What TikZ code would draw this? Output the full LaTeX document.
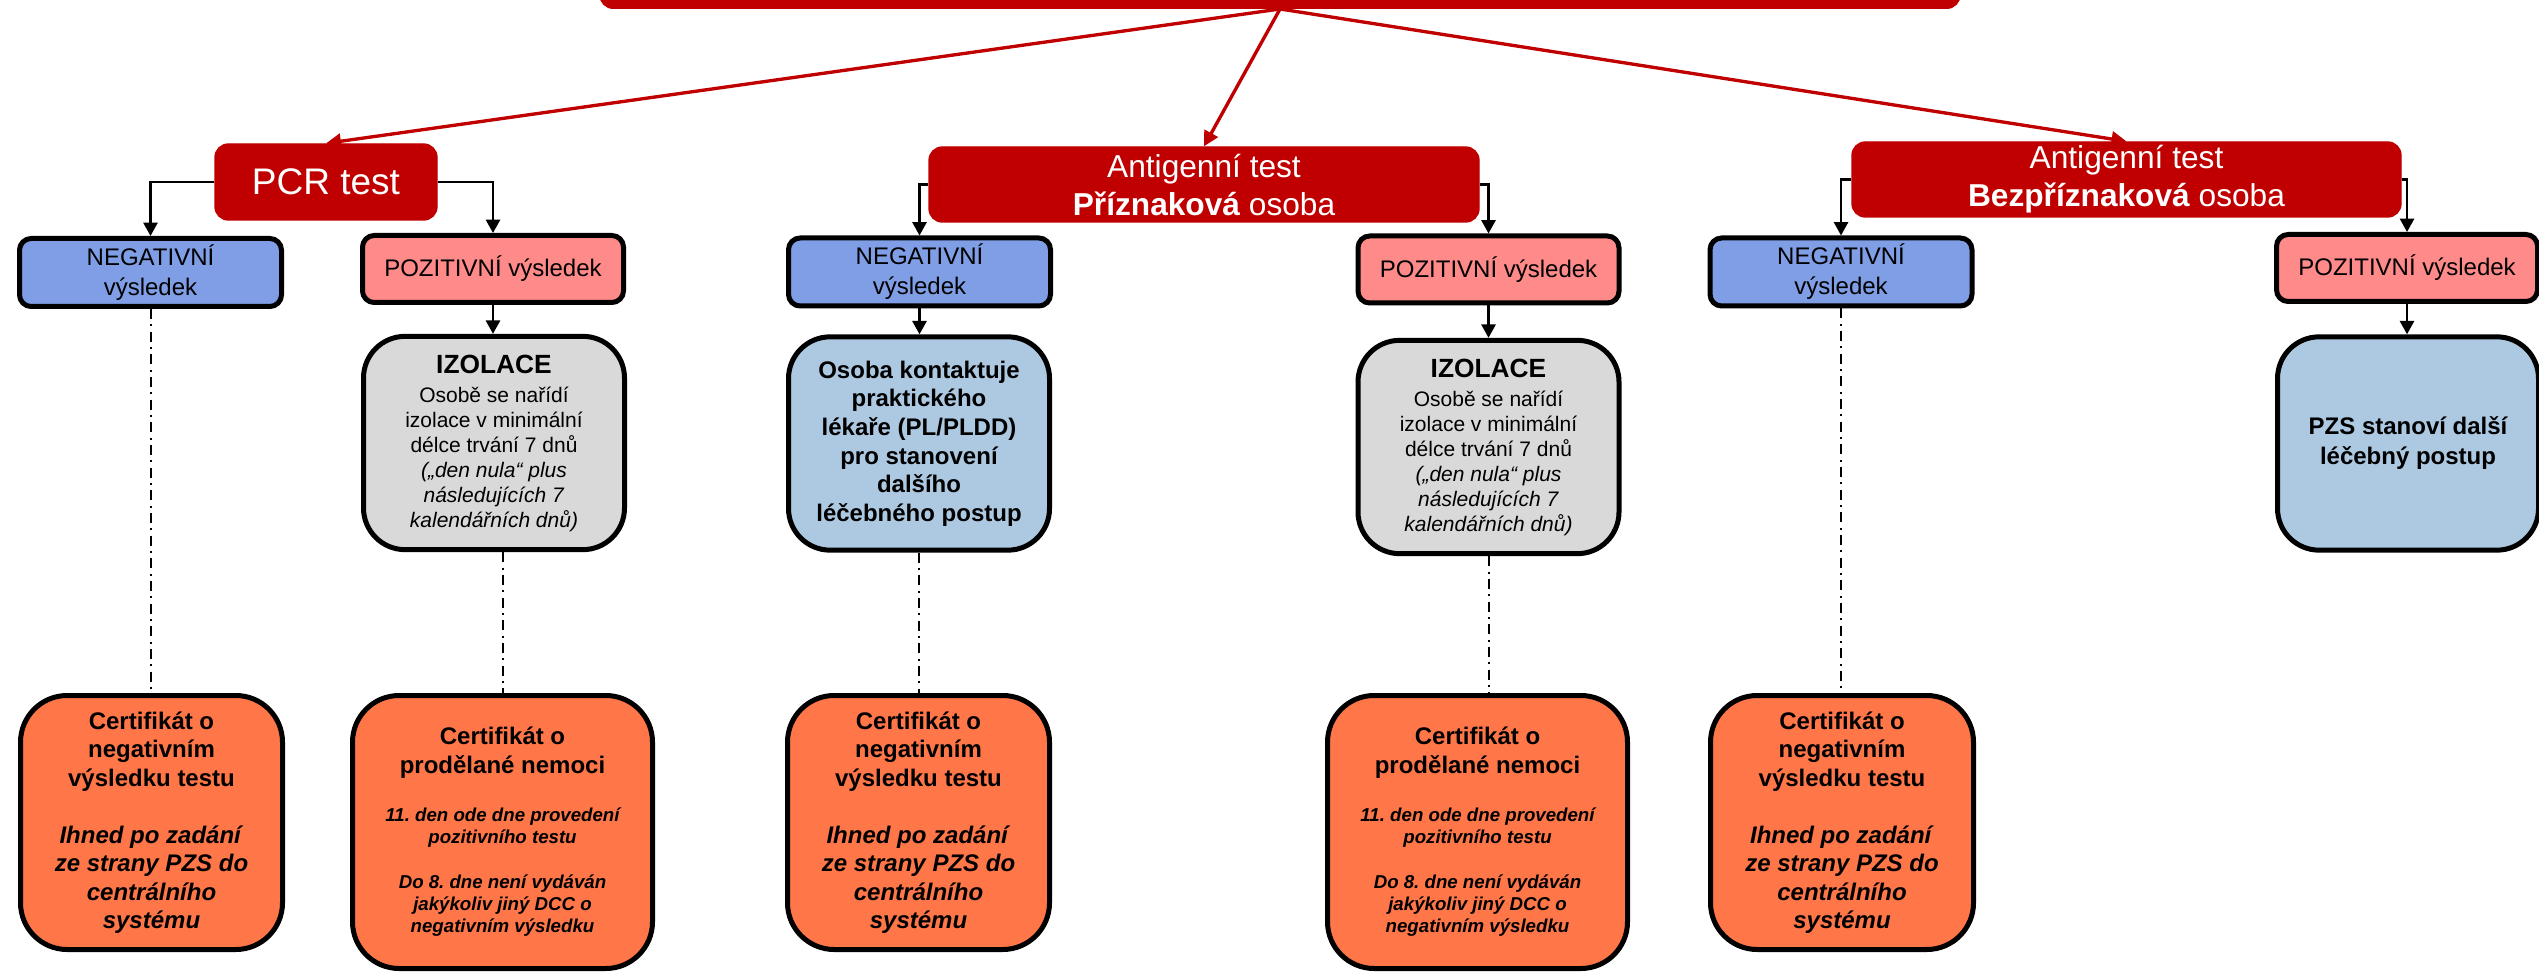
\documentclass[tikz,border=0pt]{standalone}
\usepackage{fontspec}
\setmainfont{Liberation Sans}
\usetikzlibrary{arrows.meta}
\definecolor{dred}{HTML}{C00000}
\definecolor{negblue}{HTML}{7F9EE5}
\definecolor{pozpink}{HTML}{FF8A8A}
\definecolor{izogrey}{HTML}{D9D9D9}
\definecolor{lblue}{HTML}{ADC9E2}
\definecolor{certor}{HTML}{FF7648}
\newcommand\fbigc{\fontsize{7.2}{8.6}\selectfont\bfseries\upshape}
\newcommand\fizot{\fontsize{7.9}{9}\selectfont\bfseries}
\frenchspacing
\begin{document}
\begin{tikzpicture}[x=0.3pt,y=-0.3pt,
 redbox/.style={fill=dred, draw=dred, rounded corners=4pt, text=white, inner sep=0pt, align=center},
 resbox/.style={draw=black, line width=1.5pt, rounded corners=3.5pt, inner sep=0pt, align=center, minimum width=78.6pt, minimum height=20.4pt, font=\fontsize{7.2}{9}\selectfont},
 negbox/.style={resbox, fill=negblue},
 pozbox/.style={resbox, fill=pozpink, minimum width=78.3pt, minimum height=20.1pt},
 midbox/.style={draw=black, line width=1.5pt, rounded corners=12.5pt, inner sep=0pt, align=center, minimum width=78.3pt, minimum height=64pt},
 certbox/.style={draw=black, line width=1.5pt, rounded corners=14pt, inner sep=0pt, align=center, fill=certor},
 certneg/.style={certbox, minimum width=78.6pt, minimum height=76.2pt, font=\fontsize{7.2}{8.55}\selectfont\bfseries},
 certpoz/.style={certbox, minimum width=90pt, minimum height=81.9pt, font=\fontsize{5.6}{6.6}\selectfont\bfseries\itshape},
 conn/.style={draw=black, line width=0.75pt, -{Triangle[length=4pt,width=4.2pt]}},
 redarrow/.style={draw=dred, line width=1pt, -{Triangle[length=4.5pt,width=4.5pt]}},
 dd/.style={draw=black, line width=0.6pt, dash pattern=on 3pt off 1.6pt on 0.6pt off 1.6pt}
]
\useasboundingbox (0,0) rectangle (2539,973);
\fill[white] (0,0) rectangle (2539,973);

% top bar (title, cut off)
\node[redbox, minimum width=408pt, minimum height=20pt, anchor=south] (top) at (1280,9) {};
\coordinate (apex) at (top.south);

% tests
\node[redbox, minimum width=66.6pt, minimum height=22.8pt, font=\fontsize{11.1}{13}\selectfont] (pcr) at (326,182) {PCR test};
\node[redbox, minimum width=165pt, minimum height=22.5pt, font=\fontsize{9.5}{11.4}\selectfont] (ag1) at (1204,184.5) {Antigenní test\\\textbf{Příznaková} osoba};
\node[redbox, minimum width=164.7pt, minimum height=22.5pt, font=\fontsize{9.5}{11.4}\selectfont] (ag2) at (2126.5,179.5) {Antigenní test\\\textbf{Bezpříznaková} osoba};

% results
\node[negbox] (neg1) at (150.5,272.5) {NEGATIVNÍ\\výsledek};
\node[negbox] (neg2) at (919.5,272) {NEGATIVNÍ\\výsledek};
\node[negbox] (neg3) at (1841,272) {NEGATIVNÍ\\výsledek};
\node[pozbox] (poz1) at (493,269) {POZITIVNÍ výsledek};
\node[pozbox] (poz2) at (1488.5,269.5) {POZITIVNÍ výsledek};
\node[pozbox] (poz3) at (2407,268) {POZITIVNÍ výsledek};

% middle level
\node[midbox, fill=izogrey, font=\fontsize{6.3}{7.5}\selectfont] (izo1) at (494,443) {{\fizot IZOLACE}\\[1.2pt]Osobě se nařídí\\izolace v minimální\\délce trvání 7 dnů\\\textit{(„den nula“ plus}\\\textit{následujících 7}\\\textit{kalendářních dnů)}};
\node[midbox, fill=lblue, font=\fontsize{7.2}{8.6}\selectfont\bfseries] (blue2) at (919,443.5) {Osoba kontaktuje\\praktického\\lékaře (PL/PLDD)\\pro stanovení\\dalšího\\léčebného postup};
\node[midbox, fill=izogrey, font=\fontsize{6.3}{7.5}\selectfont] (izo2) at (1488.5,447) {{\fizot IZOLACE}\\[1.2pt]Osobě se nařídí\\izolace v minimální\\délce trvání 7 dnů\\\textit{(„den nula“ plus}\\\textit{následujících 7}\\\textit{kalendářních dnů)}};
\node[midbox, fill=lblue, font=\fontsize{7.2}{9}\selectfont\bfseries] (pzs) at (2408,443.5) {PZS stanoví další\\léčebný postup};

% certificates
\node[certneg] (c1) at (151.5,822.5) {Certifikát o\\negativním\\výsledku testu\\[8.55pt]\textit{Ihned po zadání}\\\textit{ze strany PZS do}\\\textit{centrálního}\\\textit{systému}};
\node[certpoz] (c2) at (502.5,832) {{\fbigc Certifikát o}\\[2.1pt]{\fbigc prodělané nemoci}\\[7.8pt]11. den ode dne provedení\\pozitivního testu\\[6.9pt]Do 8. dne není vydáván\\jakýkoliv jiný DCC o\\negativním výsledku};
\node[certneg] (c3) at (918.5,822.5) {Certifikát o\\negativním\\výsledku testu\\[8.55pt]\textit{Ihned po zadání}\\\textit{ze strany PZS do}\\\textit{centrálního}\\\textit{systému}};
\node[certpoz] (c4) at (1477.5,832) {{\fbigc Certifikát o}\\[2.1pt]{\fbigc prodělané nemoci}\\[7.8pt]11. den ode dne provedení\\pozitivního testu\\[6.9pt]Do 8. dne není vydáván\\jakýkoliv jiný DCC o\\negativním výsledku};
\node[certneg, minimum width=78.9pt] (c5) at (1842,822.5) {Certifikát o\\negativním\\výsledku testu\\[8.55pt]\textit{Ihned po zadání}\\\textit{ze strany PZS do}\\\textit{centrálního}\\\textit{systému}};

% red arrows
\draw[redarrow] (apex) -- (pcr.north);
\draw[redarrow] (apex) -- (ag1.north);
\draw[redarrow] (apex) -- (ag2.north);

% black connectors
\draw[conn] (pcr.west) -| (neg1.north);
\draw[conn] (pcr.east) -| (poz1.north);
\draw[conn] (ag1.west) -| (neg2.north);
\draw[conn] (ag1.east) -| (poz2.north);
\draw[conn] (ag2.west) -| (neg3.north);
\draw[conn] (ag2.east) -| (poz3.north);
\draw[conn] (poz1.south) -- (poz1.south |- izo1.north);
\draw[conn] (neg2.south) -- (neg2.south |- blue2.north);
\draw[conn] (poz2.south) -- (poz2.south |- izo2.north);
\draw[conn] (poz3.south) -- (poz3.south |- pzs.north);

% dash-dot lines
\draw[dd] (neg1.south) -- (neg1.south |- c1.north);
\draw[dd] (izo1.south -| c2.north) -- (c2.north);
\draw[dd] (blue2.south) -- (blue2.south |- c3.north);
\draw[dd] (izo2.south) -- (izo2.south |- c4.north);
\draw[dd] (neg3.south) -- (neg3.south |- c5.north);
\end{tikzpicture}
\end{document}
